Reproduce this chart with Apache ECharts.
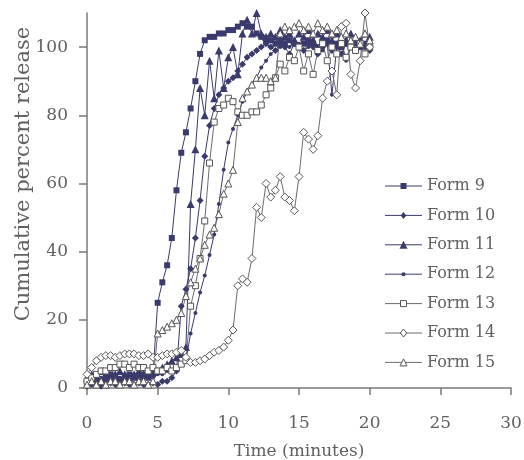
<!DOCTYPE html>
<html>
<head>
<meta charset="utf-8">
<script src="https://cdn.jsdelivr.net/npm/echarts@6/dist/echarts.min.js"></script>
<style>
  html, body { margin: 0; padding: 0; background: #fff; }
  #chart { width: 524px; height: 460px; }
</style>
</head>
<body>
<div id="chart"></div>
<script>
// sampling times (minutes)
var times = [0, 0.33, 0.67, 1, 1.33, 1.67, 2, 2.33, 2.67, 3, 3.33, 3.67, 4, 4.33, 4.67,
  5, 5.33, 5.67, 6, 6.33, 6.67, 7, 7.33, 7.67, 8, 8.33, 8.67, 9, 9.33, 9.67,
  10, 10.33, 10.67, 11, 11.33, 11.67, 12, 12.33, 12.67, 13, 13.33, 13.67, 14, 14.33, 14.67,
  15, 15.33, 15.67, 16, 16.33, 16.67, 17, 17.33, 17.67, 18, 18.33, 18.67, 19, 19.33, 19.67, 20];

var form9 = [1, 2, 3, 2, 3, 4, 3, 2, 3, 4, 3, 3, 4, 3, 4,
  25, 31, 36, 44, 58, 69, 75, 82, 90, 98, 102, 103, 103, 104, 104,
  105, 105, 106, 107, 106, 106, 104, 103, 102, 102, 101, 102, 101, 102, 101,
  100, 101, 102, 101, 100, 101, 102, 100, 101, 100, 101, 100, 101, 100, 101, 100];

var form10 = [0.5, 1, 1, 0.5, 1, 1.5, 1, 1, 1.5, 1, 1, 1.5, 1, 1, 1.5,
  1, 2, 2, 3, 5, 24, 29, 35, 44, 55, 68, 77, 82, 86, 88,
  90, 91, 93, 95, 97, 98, 99, 100, 101, 100, 99, 101, 100, 98, 101,
  100, 99, 101, 100, 98, 100, 101, 99, 100, 98, 101, 100, 99, 101, 100, 99];

var form11 = [3, 4, 3, 5, 4, 3, 4, 5, 4, 3, 4, 5, 4, 4, 5,
  5, 6, 7, 8, 9, 10, 12, 54, 70, 88, 80, 96, 85, 99, 88,
  97, 100, 92, 104, 108, 104, 110, 104, 103, 104, 103, 105, 103, 104, 102,
  104, 103, 105, 102, 104, 103, 105, 102, 104, 103, 102, 104, 103, 102, 104, 103];

var form12 = [2, 3, 2, 3, 2, 3, 4, 3, 2, 3, 4, 3, 3, 4, 3,
  4, 4, 5, 5, 6, 7, 8, 16, 22, 28, 33, 39, 45, 54, 64,
  72, 76, 80, 84, 87, 89, 91, 94, 96, 98, 99, 100, 101, 100, 102,
  101, 99, 100, 102, 100, 99, 101, 86, 100, 101, 96, 100, 99, 101, 100, 99];

var form13 = [2, 3, 4, 5, 5, 6, 6, 7, 7, 6, 7, 6, 6, 5, 6,
  5, 5, 6, 5, 6, 7, 8, 24, 30, 38, 49, 66, 78, 82, 83,
  85, 84, 81, 80, 80, 81, 81, 83, 86, 88, 91, 95, 93, 97, 96,
  100, 93, 98, 92, 99, 101, 96, 100, 98, 101, 97, 100, 99, 101, 98, 100];

var form14 = [4, 6, 8, 9, 9.5, 9.5, 9, 9.5, 10, 10, 10, 9.5, 9.5, 10, 9,
  9, 9.5, 10, 10, 10.5, 11, 9, 7.5, 7.5, 8, 8.5, 9.5, 10.5, 11, 12,
  14, 17, 30, 32, 31, 38, 53, 50, 60, 56, 58, 62, 56, 55, 52,
  62, 75, 73, 70, 74, 85, 90, 93, 86, 106, 107, 92, 88, 96, 110, 100];

var form15 = [1, 2, 1, 2, 1, 2, 2, 1, 2, 2, 1, 2, 2, 1, 2,
  16, 17, 18, 19, 20, 22, 27, 31, 35, 38, 42, 45, 47, 51, 57,
  60, 64, 78, 85, 87, 89, 91, 91, 91, 90, 91, 104, 106, 105, 106,
  107, 105, 106, 104, 107, 105, 106, 104, 105, 103, 104, 102, 103, 101, 104, 102];

var names = ['Form 9', 'Form 10', 'Form 11', 'Form 12', 'Form 13', 'Form 14', 'Form 15'];
var xTicks = [0, 5, 10, 15, 20, 25, 30];
var yTicks = [0, 20, 40, 60, 80, 100];

var dark = '#3a3a6c';
var grey = '#6a6a72';
var font = 'DejaVu Serif';
var textColor = '#606060';

// marker look per series: symbol, size, filled?
var looks = [
  ['rect', 6, true], ['diamond', 7, true], ['triangle', 8, true], ['circle', 4, true],
  ['rect', 6, false], ['diamond', 8, false], ['triangle', 7, false]
];
var seriesData = [form9, form10, form11, form12, form13, form14, form15];

function pairs(vals) {
  return times.map(function (t, i) { return [t, vals[i]]; });
}

function makeSeries(i) {
  var look = looks[i];
  return {
    name: names[i], type: 'line', data: pairs(seriesData[i]),
    symbol: look[0], symbolSize: look[1],
    lineStyle: { color: look[2] ? dark : grey, width: 1 },
    itemStyle: look[2] ? { color: dark } : { color: '#fff', borderColor: '#555', borderWidth: 1 },
    emphasis: { disabled: true }
  };
}

// legend drawn by hand so it sits exactly where the original has it
function legendShape(look, cx, cy) {
  var s = look[1] / 2;
  var style = look[2] ? { fill: dark } : { fill: '#fff', stroke: '#555', lineWidth: 1 };
  if (look[0] === 'rect') return { type: 'rect', shape: { x: cx - s, y: cy - s, width: 2 * s, height: 2 * s }, style: style };
  if (look[0] === 'circle') return { type: 'circle', shape: { cx: cx, cy: cy, r: s }, style: style };
  if (look[0] === 'diamond') return { type: 'polygon', shape: { points: [[cx, cy - s], [cx + s * 0.8, cy], [cx, cy + s], [cx - s * 0.8, cy]] }, style: style };
  return { type: 'polygon', shape: { points: [[cx, cy - s], [cx + s, cy + s], [cx - s, cy + s]] }, style: style };
}

var graphics = [{
  type: 'text', x: 24, y: 174, rotation: Math.PI / 2,
  style: {
    text: 'Cumulative percent release', fontFamily: font, fontSize: 21,
    fill: textColor, align: 'center', verticalAlign: 'middle'
  }
}];
names.forEach(function (name, i) {
  var y = 186 + i * 29.4;
  var look = looks[i];
  graphics.push({ type: 'line', shape: { x1: 385, y1: y, x2: 422, y2: y },
    style: { stroke: look[2] ? dark : grey, lineWidth: 1 } });
  graphics.push(legendShape(look, 403.5, y));
  graphics.push({ type: 'text', x: 427, y: y,
    style: { text: name, fontFamily: font, fontSize: 16, fill: textColor, verticalAlign: 'middle' } });
});

var myChart = echarts.init(document.getElementById('chart'));

var option = {
  animation: false,
  grid: { left: 87, right: 13, top: 13, bottom: 72, outerBoundsMode: 'none', containLabel: false },
  graphic: graphics,
  xAxis: {
    type: 'value', min: 0, max: 30, interval: 5,
    name: 'Time (minutes)', nameLocation: 'middle', nameGap: 55,
    nameTextStyle: { fontFamily: font, fontSize: 17, color: textColor },
    axisLine: { lineStyle: { color: '#7a7a7a', width: 1.5 } },
    axisTick: { length: 7, lineStyle: { color: '#7a7a7a', width: 1.5 }, customValues: xTicks },
    axisLabel: { margin: 27, fontFamily: font, fontSize: 17, color: textColor, customValues: xTicks },
    splitLine: { show: false }
  },
  yAxis: {
    type: 'value', min: 0, max: 110,
    axisLine: { show: true, lineStyle: { color: '#7a7a7a', width: 1.5 } },
    axisTick: { show: true, length: 8, lineStyle: { color: '#7a7a7a', width: 1.5 }, customValues: yTicks },
    axisLabel: { margin: 19, fontFamily: font, fontSize: 17, color: textColor, customValues: yTicks },
    splitLine: { show: false }
  },
  series: names.map(function (n, i) { return makeSeries(i); })
};

myChart.setOption(option);
</script>
</body>
</html>
